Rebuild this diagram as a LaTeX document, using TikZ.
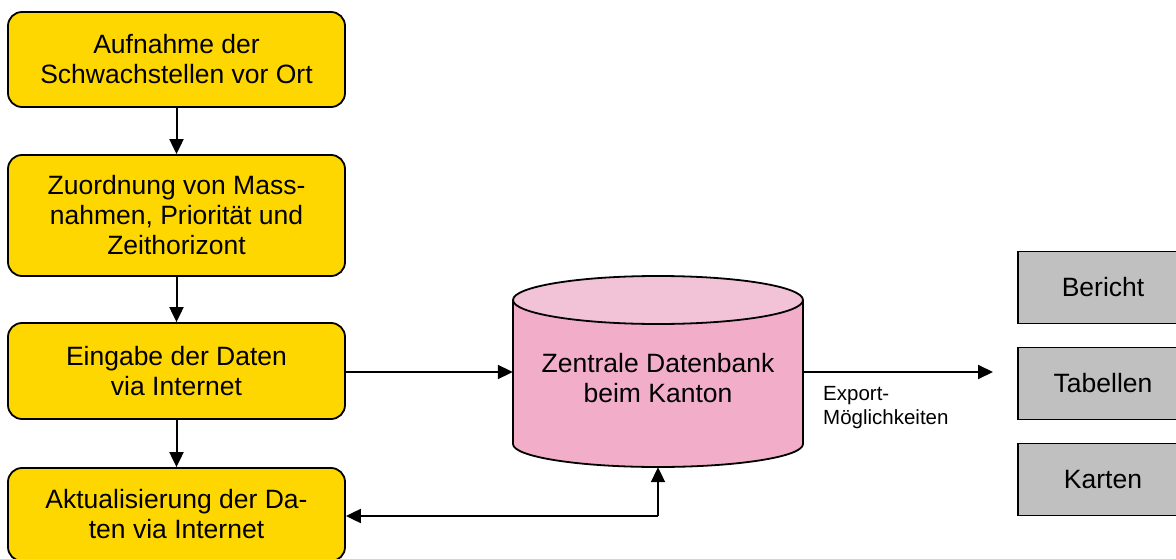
\documentclass[tikz,border=0pt]{standalone}
\usepackage{fontspec}
\setmainfont{Liberation Sans}
\usetikzlibrary{arrows.meta}
\definecolor{stepyellow}{RGB}{255,215,0}
\definecolor{dbbody}{RGB}{242,174,200}
\definecolor{dbtop}{RGB}{242,194,214}
\definecolor{outgray}{RGB}{192,192,192}
\tikzset{
  stepbox/.style={draw=black, line width=1.8pt, fill=stepyellow, rounded corners=14pt,
    minimum width=337, align=center, inner sep=0pt,
    font=\fontsize{26.5}{30}\selectfont},
  outbox/.style={draw=black, line width=1.8pt, fill=outgray, minimum width=170,
    minimum height=72, inner sep=0pt, font=\fontsize{26.5}{30}\selectfont},
  flow/.style={line width=2pt, -{Triangle[length=15pt,width=14pt]}},
}
\begin{document}
\begin{tikzpicture}[x=1pt,y=1pt]
\useasboundingbox (0,0) rectangle (1176,-559);
\clip (0,0) rectangle (1176,-559);

% process steps
\node[stepbox, minimum height=95]  (s1) at (176.5,-59.5) {Aufnahme der\\Schwachstellen vor Ort};
\node[stepbox, minimum height=121] (s2) at (176.5,-215.5) {Zuordnung von Mass-\\nahmen, Priorit\"at und\\Zeithorizont};
\node[stepbox, minimum height=96]  (s3) at (176.5,-371) {Eingabe der Daten\\via Internet};
\node[stepbox, minimum height=93]  (s4) at (176.5,-514.5) {Aktualisierung der Da-\\ten via Internet};

% central database (cylinder)
\fill[dbbody] (513,-300) -- (513,-444)
  arc[start angle=180, end angle=360, x radius=145, y radius=23]
  -- (803,-300) arc[start angle=0, end angle=180, x radius=145, y radius=24] -- cycle;
\draw[line width=1.8pt] (513,-300) -- (513,-444)
  arc[start angle=180, end angle=360, x radius=145, y radius=23] -- (803,-300);
\draw[line width=1.8pt, fill=dbtop] (658,-300) ellipse[x radius=145, y radius=24];
\node[minimum width=290, minimum height=191, inner sep=0pt] (db) at (658,-371.5) {};
\node[align=center, inner sep=0pt, font=\fontsize{26.5}{30}\selectfont] (dbtext) at (658,-378) {Zentrale Datenbank\\beim Kanton};

% export targets
\node[outbox] (o1) at (1103,-287.5) {Bericht};
\node[outbox] (o2) at (1103,-383.5) {Tabellen};
\node[outbox] (o3) at (1103,-479.5) {Karten};

% connectors
\draw[flow] (s1.south) -- (s2.north);
\draw[flow] (s2.south) -- (s3.north);
\draw[flow] (s3.south) -- (s4.north);
\draw[flow] (s3.east |- 0,-372) -- (db.west |- 0,-372);
\coordinate (exp) at (993,-372);
\draw[flow] (db.east |- 0,-372) -- (exp);
\node[anchor=north west, align=left, inner sep=0pt, font=\fontsize{20.5}{24}\selectfont] (explbl) at (823,-386) {Export-\\M\"oglichkeiten};
\coordinate (fb) at (658,-516);
\draw[flow] (fb) -- (db.south);
\draw[flow] (fb) -- (s4.east |- fb);
\end{tikzpicture}
\end{document}
